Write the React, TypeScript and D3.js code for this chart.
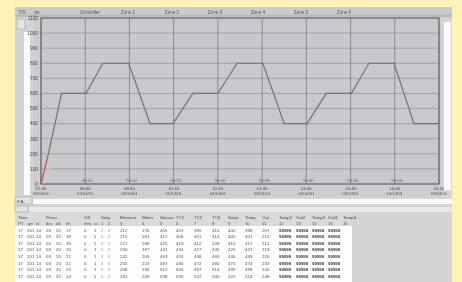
import React from "react";
import * as d3 from "d3";

// furnace profile, minutes from start vs temperature
const minutes = [0, 10, 28, 61, 84, 119, 148, 179, 206, 240, 266, 301, 330, 361, 387, 421, 445, 479, 506, 540];
const temps = [0, 200, 600, 600, 800, 800, 400, 400, 600, 600, 800, 800, 400, 400, 600, 600, 800, 800, 400, 400];
const redCount = 2; // first ramp drawn in red

const yTicks = [0, 100, 200, 300, 400, 500, 600, 700, 800, 900, 1000, 1100];
const xTicks = [0, 60, 120, 180, 240, 300, 360, 420, 480, 540];
const timeLabels = ["07:40", "08:40", "09:40", "10:40", "11:40", "12:40", "13:40", "14:40", "15:40", "16:40"];
const dateLabels = ["03/14/01", "03/14/01", "03/14/01", "03/14/01", "03/14/01", "03/14/01", "03/14/01", "03/14/01", "03/14/01", "03/14/01"];
const markLabels = ["", "20:15", "20:20", "20:25", "20:30", "20:35", "20:40", "20:45", "20:50", ""];

const headerLabels = ["T/S", "ps", "Controller", "Zone 1", "Zone 2", "Zone 3", "Zone 4", "Zone 5", "Zone 6"];
const headerX = [22, 37, 90, 128, 172, 215, 258, 301, 344];

const colX = [18, 27, 36, 46, 56, 66, 84, 94, 101, 108, 120, 142, 160, 176, 194, 212, 228, 245, 262, 279, 296, 312, 328, 343];
const tableHead1 = ["Time", "", "", "Press", "", "", "OK", "", "Setp", "", "Element", "Meter", "Sensor", "TC1", "TC2", "TC3", "Setpt", "Temp", "Out", "Temp2", "Out2", "Temp3", "Out3", "Temp4"];
const tableHead2 = ["PT", "spt", "in", "dev", "dd", "hh", "mm", "ss", "1", "2", "3", "4", "5", "6", "7", "8", "9", "10", "11", "12", "13", "14", "15", "16"];
const tableRows = [
  ["17", "201", "14", "03", "20", "17", "0", "1", "#", "#", "212", "176", "405", "401", "395", "410", "400", "398", "207", "99999", "99999", "99999", "99999", ""],
  ["17", "201", "14", "03", "20", "18", "0", "1", "#", "#", "215", "181", "412", "406", "401", "414", "400", "401", "210", "99999", "99999", "99999", "99999", ""],
  ["17", "201", "14", "03", "20", "19", "0", "1", "#", "#", "221", "188", "425", "419", "412", "428", "410", "412", "214", "99999", "99999", "99999", "99999", ""],
  ["17", "201", "14", "03", "20", "20", "0", "1", "#", "#", "230", "197", "441", "434", "427", "445", "425", "427", "219", "99999", "99999", "99999", "99999", ""],
  ["17", "201", "14", "03", "20", "21", "0", "1", "#", "#", "242", "209", "463", "455", "448", "466", "445", "449", "226", "99999", "99999", "99999", "99999", ""],
  ["17", "201", "14", "03", "20", "22", "0", "1", "#", "#", "255", "223", "487", "480", "472", "490", "470", "474", "233", "99999", "99999", "99999", "99999", ""],
  ["17", "201", "14", "03", "20", "23", "0", "1", "#", "#", "268", "236", "512", "505", "497", "514", "495", "499", "240", "99999", "99999", "99999", "99999", ""],
  ["17", "201", "14", "03", "20", "24", "0", "1", "#", "#", "281", "249", "538", "530", "522", "540", "520", "524", "248", "99999", "99999", "99999", "99999", ""],
];

const W = 462;
const H = 282;
const font = "Liberation Sans, Arial, sans-serif";

export default function App() {
  const x = d3.scaleLinear().domain([0, 540]).range([41, 439]);
  const y = d3.scaleLinear().domain([0, 1100]).range([184, 18]);
  const pts: [number, number][] = minutes.map((m, i) => [m, temps[i]]);
  const line = d3.line<[number, number]>().x(d => x(d[0])).y(d => y(d[1]));

  return (
    <div style={{ position: "fixed", left: 0, top: 0 }}>
      <svg width={W} height={H} style={{ display: "block" }} fontFamily={font}>
        <defs>
          <filter id="soft" x="-5%" y="-5%" width="110%" height="110%">
            <feGaussianBlur stdDeviation="0.45" />
          </filter>
        </defs>
        <rect width={W} height={H} fill="#fef3b6" />
        <g filter="url(#soft)">
          {/* window */}
          <rect x={15} y={7} width={437} height={H - 7} fill="#d3d4d6" />
          {/* header bar */}
          <rect x={15} y={7} width={437} height={9} fill="#c9cacc" />
          <line x1={15} x2={452} y1={16} y2={16} stroke="#9a9a9a" strokeWidth={0.8} />
          {headerLabels.map((t, i) => (
            <text key={t + i} x={headerX[i]} y={13.5} fontSize={4.6} fill="#555" textAnchor="middle">{t}</text>
          ))}

          {/* left panel */}
          <rect x={17} y={19} width={8} height={10} fill="#e4e4e4" stroke="#999" strokeWidth={0.5} />
          <rect x={24} y={32} width={6} height={163} fill="#fbfbfb" />

          {/* plot */}
          <rect x={33} y={17} width={408} height={180} fill="#cbcdd0" />
          <rect x={x(0)} y={y(1100)} width={x(540) - x(0)} height={y(0) - y(1100)} fill="#c7c9cc" />
          {yTicks.map(t => (
            <g key={t}>
              <line x1={x(0)} x2={x(540)} y1={y(t)} y2={y(t)} stroke="#95979b" strokeWidth={0.8} />
              <text x={38} y={y(t) + 1.8} fontSize={4.8} fill="#444" textAnchor="end">{t}</text>
            </g>
          ))}
          {xTicks.map((t, i) => (
            <g key={t}>
              <line x1={x(t)} x2={x(t)} y1={y(1100)} y2={y(0)} stroke="#787b80" strokeWidth={0.8} />
              <text x={x(t) + 2} y={y(0) - 2} fontSize={4.4} fill="#5c6890" textAnchor="middle">{markLabels[i]}</text>
              <text x={x(t)} y={189.5} fontSize={4.4} fill="#444" textAnchor="middle">{timeLabels[i]}</text>
              <text x={x(t)} y={194.5} fontSize={4.2} fill="#555" textAnchor="middle">{dateLabels[i]}</text>
            </g>
          ))}
          <rect x={x(0)} y={y(1100)} width={x(540) - x(0)} height={y(0) - y(1100)} fill="none" stroke="#5f6267" strokeWidth={1} />
          <path d={line(pts.slice(redCount - 1)) ?? ""} fill="none" stroke="#707276" strokeWidth={1.2} />
          <path d={line(pts.slice(0, redCount)) ?? ""} fill="none" stroke="#d8406c" strokeWidth={1.2} />
          <path d={line(pts.slice(0, redCount).map(d => [d[0] + 5, d[1] * 0.85] as [number, number])) ?? ""} fill="none" stroke="#b8e2c8" strokeWidth={0.8} />

          {/* right strip */}
          <rect x={444} y={22} width={7} height={168} fill="#fbfbfb" />

          {/* scroll rows */}
          <rect x={15} y={197} width={17} height={7} fill="#e2e2e2" stroke="#999" strokeWidth={0.5} />
          <text x={17} y={202.5} fontSize={4.4} fill="#444">P.A.</text>
          <rect x={33} y={199} width={419} height={5} fill="#fbfbfb" />
          <rect x={15} y={206} width={13} height={6} fill="#e2e2e2" stroke="#999" strokeWidth={0.5} />
          <rect x={29} y={207} width={423} height={5} fill="#e9e9ea" />

          {/* table */}
          <rect x={15} y={213} width={337} height={13} fill="#d9dadc" />
          <rect x={15} y={226} width={337} height={H - 226} fill="#fdfdfd" />
          {tableHead1.map((t, i) => (
            <text key={"h1" + i} x={colX[i]} y={219} fontSize={4.4} fill="#444">{t}</text>
          ))}
          {tableHead2.map((t, i) => (
            <text key={"h2" + i} x={colX[i]} y={225} fontSize={4.2} fill="#555">{t}</text>
          ))}
          {tableRows.map((r, j) => (
            <g key={"r" + j}>
              {r.map((t, i) => (
                <text key={i} x={colX[i]} y={231.5 + j * 6.6} fontSize={4.4} fill={i >= 19 ? "#333" : "#555"} fontWeight={i >= 19 ? "bold" : "normal"}>{t}</text>
              ))}
            </g>
          ))}
        </g>
      </svg>
    </div>
  );
}
